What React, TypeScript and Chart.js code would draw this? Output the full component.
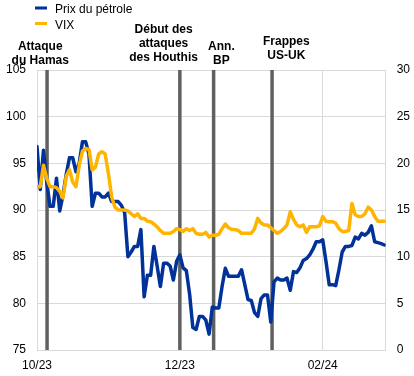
import { useEffect, useRef } from 'react';
import { Chart, registerables } from 'chart.js';

Chart.register(...registerables);

// Brent oil price (left axis), one value per trading day from early October 2023
const oilPrice = [
  96.8, 92.2, 96.4, 93.0, 90.4, 90.4, 93.4, 89.9, 91.6, 93.8,
  95.6, 95.6, 94.1, 95.0, 97.3, 97.3, 96.0, 90.4, 91.8, 91.8,
  91.4, 91.4, 91.8, 90.9, 90.9, 90.9, 90.5, 89.7, 85.0, 85.5,
  86.1, 86.1, 87.9, 80.7, 83.0, 83.0, 86.1, 84.0, 81.8, 84.3,
  84.3, 84.0, 82.5, 84.5, 85.2, 83.8, 83.5, 81.0, 77.4, 77.2,
  78.6, 78.6, 78.2, 76.7, 79.6, 79.5, 79.5, 81.8, 83.75, 82.9,
  82.9, 82.9, 82.9, 83.6, 82.0, 80.4, 80.3, 79.0, 78.6, 80.5,
  80.9, 80.9, 78.0, 82.3, 82.7, 82.5, 82.5, 82.7, 81.4, 83.4,
  83.3, 83.8, 84.6, 84.8, 85.2, 85.8, 86.6, 86.6, 86.8, 84.5,
  82.0, 82.0, 81.9, 83.6, 85.5, 86.1, 86.1, 86.2, 87.1, 86.9,
  87.5, 87.3, 87.6, 88.3, 86.6, 86.5, 86.4, 86.25,
];

// VIX (right axis)
const vixIndex = [
  17.5, 17.5, 19.8, 18.4, 17.5, 17.5, 17.4, 17.0, 16.3, 18.6,
  19.3, 18.0, 17.5, 19.8, 21.3, 21.6, 21.5, 19.3, 19.6, 21.0,
  21.25, 21.0, 18.9, 16.4, 15.3, 15.0, 15.0, 15.0, 14.9, 14.6,
  14.3, 14.6, 14.1, 14.1, 13.8, 13.75, 13.5, 13.2, 12.8, 12.5,
  12.5, 12.5, 12.7, 13.0, 12.9, 12.7, 13.0, 12.8, 13.0, 12.5,
  12.4, 12.4, 12.6, 12.1, 12.3, 12.3, 12.4, 13.0, 13.5, 13.1,
  12.9, 12.9, 12.8, 12.5, 12.5, 12.5, 12.5, 13.0, 14.1, 13.6,
  13.4, 13.4, 13.1, 12.8, 12.5, 12.7, 13.0, 13.4, 14.8, 14.0,
  13.4, 13.2, 13.4, 12.6, 13.2, 13.2, 13.2, 13.3, 14.3, 13.8,
  13.75, 13.75, 13.6, 13.0, 12.7, 12.7, 12.8, 15.7, 14.5, 14.3,
  14.3, 14.6, 15.3, 15.0, 14.3, 13.8, 13.8, 13.8,
];

const seriesNames = ['Prix du pétrole', 'VIX'];
const seriesColors = ['#003299', '#FFB400'];

// x-axis ticks (trading-day index) and their labels
const xTickValues = [0, 44, 88];
const xTickLabels = ['10/23', '12/23', '02/24'];

// events: position of the vertical line (trading-day index) and label text
const eventAt = [3.1, 44, 54.4, 72.4];
const eventLabels = [
  ['Attaque', 'du Hamas'],
  ['Début des', 'attaques', 'des Houthis'],
  ['Ann.', 'BP'],
  ['Frappes', 'US-UK'],
];
const eventLabelAt = [1.0, 39.0, 56.8, 76.8];
const eventLabelTop = [47, 30, 47, 42];

const FONT = "'Liberation Sans', Arial, sans-serif";

const overlayPlugin = {
  id: 'overlay',
  beforeDatasetsDraw(chart: any) {
    const { ctx, chartArea, scales } = chart;
    ctx.save();
    ctx.strokeStyle = '#606060';
    ctx.lineWidth = 3.5;
    eventAt.forEach((v) => {
      const px = scales.x.getPixelForValue(v);
      ctx.beginPath();
      ctx.moveTo(px, chartArea.top);
      ctx.lineTo(px, chartArea.bottom);
      ctx.stroke();
    });
    ctx.restore();
  },
  afterDraw(chart: any) {
    const { ctx, scales } = chart;
    ctx.save();
    // event labels
    ctx.fillStyle = '#000';
    ctx.font = `bold 12px ${FONT}`;
    ctx.textAlign = 'center';
    ctx.textBaseline = 'middle';
    eventLabels.forEach((lines, i) => {
      const cx = scales.x.getPixelForValue(eventLabelAt[i]);
      lines.forEach((t, j) => {
        ctx.fillText(t, cx, eventLabelTop[i] + j * 14);
      });
    });
    // legend
    ctx.font = `12px ${FONT}`;
    ctx.textAlign = 'left';
    seriesNames.forEach((name, i) => {
      const cy = 8 + i * 15.5;
      ctx.fillStyle = seriesColors[i];
      ctx.fillRect(35, cy - 1.5, 12, 3);
      ctx.fillStyle = '#000';
      ctx.fillText(name, 55, cy + 2);
    });
    ctx.restore();
  },
};

export default function App() {
  const canvasRef = useRef<HTMLCanvasElement | null>(null);

  useEffect(() => {
    document.body.style.margin = '0';
    const canvas = canvasRef.current;
    if (!canvas) return;
    Chart.defaults.font.family = FONT;
    Chart.defaults.font.size = 12;
    Chart.defaults.color = '#000';

    const chart = new Chart(canvas, {
      type: 'line',
      data: {
        datasets: [
          {
            label: seriesNames[0],
            data: oilPrice.map((v, i) => ({ x: i, y: v })),
            borderColor: seriesColors[0],
            backgroundColor: seriesColors[0],
            borderWidth: 3.5,
            pointRadius: 0,
            tension: 0,
            borderJoinStyle: 'round',
            borderCapStyle: 'round',
            yAxisID: 'y',
            order: 1,
          },
          {
            label: seriesNames[1],
            data: vixIndex.map((v, i) => ({ x: i, y: v })),
            borderColor: seriesColors[1],
            backgroundColor: seriesColors[1],
            borderWidth: 3.5,
            pointRadius: 0,
            tension: 0,
            borderJoinStyle: 'round',
            borderCapStyle: 'round',
            yAxisID: 'y1',
            order: 0,
          },
        ],
      },
      options: {
        animation: false,
        responsive: true,
        maintainAspectRatio: false,
        layout: { padding: { top: 70, left: 0, right: 0, bottom: 0 } },
        plugins: {
          legend: { display: false },
          tooltip: { enabled: false },
        },
        scales: {
          x: {
            type: 'linear',
            min: 0,
            max: 107.4,
            afterBuildTicks: (axis: any) => {
              axis.ticks = xTickValues.map((v) => ({ value: v }));
            },
            afterFit: (axis: any) => {
              axis.height = 26;
            },
            ticks: {
              autoSkip: false,
              maxRotation: 0,
              padding: 8,
              callback: (value: any) => {
                const k = xTickValues.indexOf(Number(value));
                return k >= 0 ? xTickLabels[k] : '';
              },
            },
            grid: { color: '#d9d9d9', lineWidth: 1, drawTicks: false },
            border: { display: false },
          },
          y: {
            position: 'left',
            min: 75,
            max: 105,
            ticks: { stepSize: 5, padding: 11 },
            afterFit: (axis: any) => {
              axis.width = 37;
            },
            grid: { color: '#d9d9d9', lineWidth: 1, drawTicks: false },
            border: { display: true, color: '#d9d9d9' },
          },
          y1: {
            position: 'right',
            min: 0,
            max: 30,
            ticks: { stepSize: 5, padding: 11 },
            afterFit: (axis: any) => {
              axis.width = 28.3;
            },
            grid: { drawOnChartArea: false, drawTicks: false },
            border: { display: true, color: '#d9d9d9' },
          },
        },
      },
      plugins: [overlayPlugin],
    } as any);

    return () => chart.destroy();
  }, []);

  return (
    <div style={{ position: 'relative', width: 414, height: 376 }}>
      <canvas ref={canvasRef} />
    </div>
  );
}
